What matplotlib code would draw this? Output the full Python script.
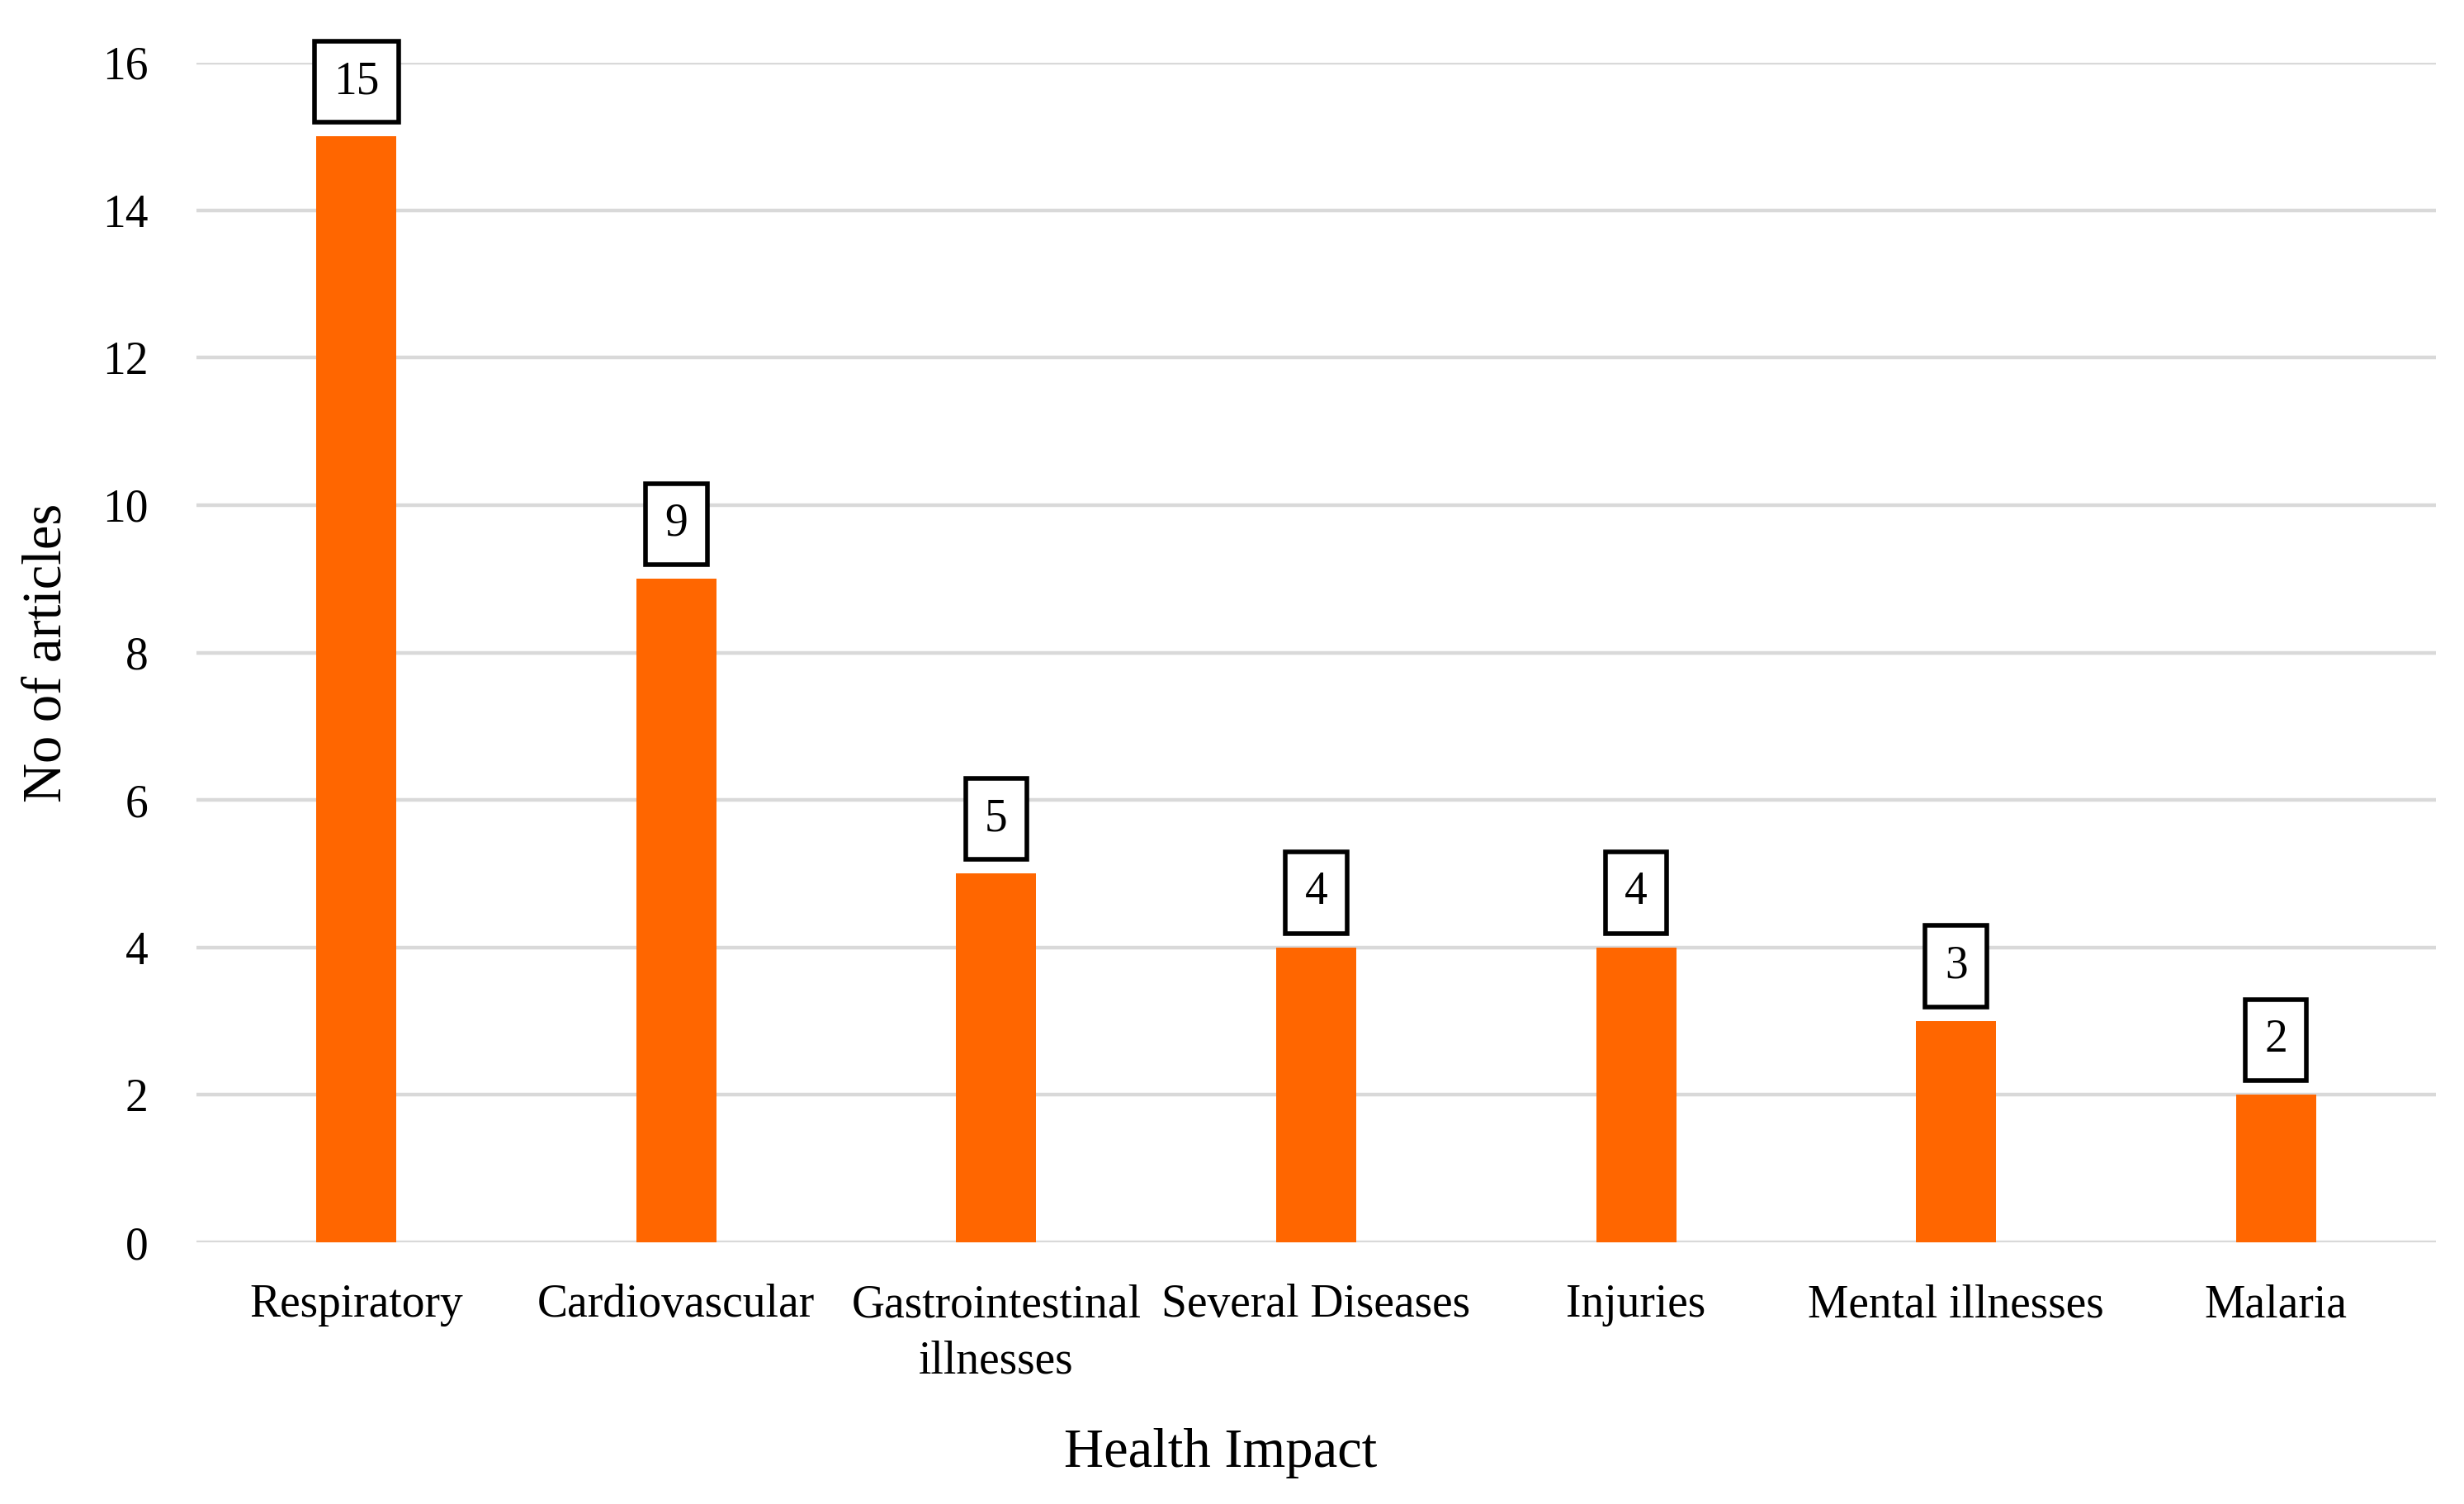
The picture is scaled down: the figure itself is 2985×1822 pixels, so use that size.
import matplotlib
matplotlib.use("Agg")
import matplotlib.pyplot as plt

categories = ["Respiratory", "Cardiovascular", "Gastrointestinal\nillnesses", "Several Diseases",
              "Injuries", "Mental illnesses", "Malaria"]
values = [15, 9, 5, 4, 4, 3, 2]
yticks = [0, 2, 4, 6, 8, 10, 12, 14, 16]

plt.rcParams['font.family'] = ['Liberation Serif', 'DejaVu Serif']

fig = plt.figure(figsize=(29.85, 18.22), dpi=100)
ax = fig.add_axes([238/2985, 1-1505/1822, (2951-238)/2985, (1505-76)/1822])

x = list(range(len(categories)))
ax.bar(x, values, width=0.25, color="#FF6600", zorder=3)
ax.set_xlim(-0.5, len(categories)-0.5)
ax.set_ylim(0, 16)
ax.set_yticks(yticks)
ax.set_xticks(x)
ax.set_xticklabels(categories, fontsize=40, linespacing=1.4)
ax.tick_params(axis='y', labelsize=40, length=0, pad=42)
ax.tick_params(axis='x', length=0, pad=36)
ax.grid(axis='y', color="#d9d9d9", linewidth=3.2, zorder=0)
ax.set_axisbelow(True)
for s in ax.spines.values():
    s.set_visible(False)

for xi, v in zip(x, values):
    ax.annotate(str(v), xy=(xi, v), xytext=(0, 29), textcoords='offset points',
                ha='center', va='bottom', fontsize=40, zorder=4,
                bbox=dict(boxstyle='square,pad=0.42', facecolor='white', edgecolor='black', linewidth=4))

ax.set_ylabel("No of articles", fontsize=48)
ax.set_xlabel("Health Impact", fontsize=48)
ax.xaxis.set_label_coords((1479-238)/2713, -0.179)
ax.xaxis.label.set_va('center')
ax.yaxis.set_label_coords(-(238-57)/2713, 0.5)
ax.yaxis.label.set_va('center')

fig.savefig("out.png", dpi=100)
